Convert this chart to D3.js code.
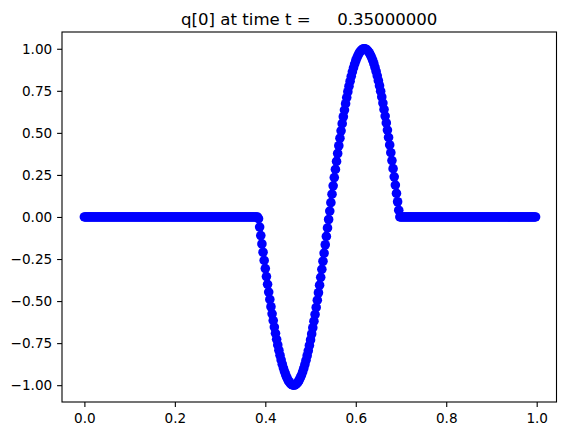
<!DOCTYPE html>
<html><head><meta charset="utf-8">
<script src="https://cdn.jsdelivr.net/npm/d3@7"></script>
<style>body{margin:0;background:#fff}svg{display:block}text{font-family:"DejaVu Sans",sans-serif;fill:#000}</style>
</head><body>
<script>
const titleText = "q[0] at time t =     0.35000000";
const dx = 0.0025;
const nCells = 400;
// nonzero segment: starts at x=0.385
const waveStart = 0.385;
const waveValues = [
 -0.0101,-0.0603,-0.1104,-0.1601,-0.2096,-0.2584,-0.3066,-0.3541,-0.4006,-0.4462,
 -0.4905,-0.5337,-0.5755,-0.6158,-0.6547,-0.6916,-0.7273,-0.7609,-0.7924,-0.8221,
 -0.8497,-0.8751,-0.8983,-0.9192,-0.9379,-0.9541,-0.9680,-0.9794,-0.9883,-0.9947,
 -0.9986,-1.0000,-0.9989,-0.9952,-0.9890,-0.9804,-0.9692,-0.9556,-0.9396,-0.9212,
 -0.9005,-0.8775,-0.8523,-0.8250,-0.7955,-0.7642,-0.7307,-0.6957,-0.6586,-0.6198,
 -0.5797,-0.5380,-0.4949,-0.4506,-0.4052,-0.3588,-0.3114,-0.2633,-0.2145,-0.1651,
 -0.1154,-0.0653,-0.0151, 0.0352, 0.0853, 0.1353, 0.1849, 0.2341, 0.2826, 0.3305,
  0.3774, 0.4235, 0.4684, 0.5120, 0.5548, 0.5959, 0.6356, 0.6735, 0.7100, 0.7445,
  0.7771, 0.8075, 0.8362, 0.8627, 0.8870, 0.9091, 0.9288, 0.9463, 0.9613, 0.9739,
  0.9841, 0.9918, 0.9970, 0.9996, 0.9997, 0.9973, 0.9924, 0.9850, 0.9751, 0.9627,
  0.9479, 0.9307, 0.9112, 0.8893, 0.8654, 0.8390, 0.8106, 0.7802, 0.7476, 0.7136,
  0.6771, 0.6395, 0.5998, 0.5589, 0.5165, 0.4729, 0.4281, 0.3821, 0.3352, 0.2874,
  0.2390, 0.1898, 0.1403, 0.0904, 0.0402
];
const xTicks = [0.0, 0.2, 0.4, 0.6, 0.8, 1.0];
const yTicks = [-1.0, -0.75, -0.5, -0.25, 0.0, 0.25, 0.5, 0.75, 1.0];
const xDomain = [-0.0495, 1.0438];

const startIdx = Math.round(waveStart / dx);
const data = d3.range(nCells).map(i => {
  const j = i - startIdx;
  return {x: i * dx, y: (j >= 0 && j < waveValues.length) ? waveValues[j] : 0};
});

const W = 568, H = 435;
const L = 62, R = 556.5, T = 32, B = 402;
const svg = d3.select("body").append("svg").attr("width", W).attr("height", H);

const ye = d3.extent(data, d => d.y);
const ym = (ye[1] - ye[0]) * 0.05;
const x = d3.scaleLinear().domain(xDomain).range([L, R]);
const y = d3.scaleLinear().domain([ye[0] - ym, ye[1] + ym]).range([B, T]);

const minus = s => s.replace("-", "\u2212");
const xAxis = d3.axisBottom(x).tickValues(xTicks).tickFormat(d => minus(d3.format(".1f")(d))).tickSize(4.9).tickPadding(4.9);
const yAxis = d3.axisLeft(y).tickValues(yTicks).tickFormat(d => minus(d3.format(".2f")(d))).tickSize(4.9).tickPadding(4.9);

// points
svg.append("g").selectAll("circle").data(data).join("circle")
  .attr("cx", d => x(d.x)).attr("cy", d => y(d.y)).attr("r", 4.8)
  .attr("fill", "#0000ff").attr("stroke", "none");

const gx = svg.append("g").attr("transform", `translate(0,${B})`).call(xAxis);
const gy = svg.append("g").attr("transform", `translate(${L},0)`).call(yAxis);
[gx, gy].forEach(g => {
  g.select(".domain").remove();
  g.selectAll(".tick line").attr("stroke", "#000").attr("stroke-width", 1.1);
  g.selectAll(".tick text").attr("font-size", "13.6px").attr("font-family", "DejaVu Sans").attr("fill", "#000");
});
gx.selectAll(".tick text").attr("dy", null).attr("y", 21);

// frame
svg.append("rect").attr("x", L).attr("y", T).attr("width", R - L).attr("height", B - T)
  .attr("fill", "none").attr("stroke", "#000").attr("stroke-width", 1.1);

svg.append("text").attr("x", (L + R) / 2).attr("y", 25).attr("text-anchor", "middle")
  .attr("font-size", "16.6px").style("white-space", "pre").text(titleText);
</script>
</body></html>
